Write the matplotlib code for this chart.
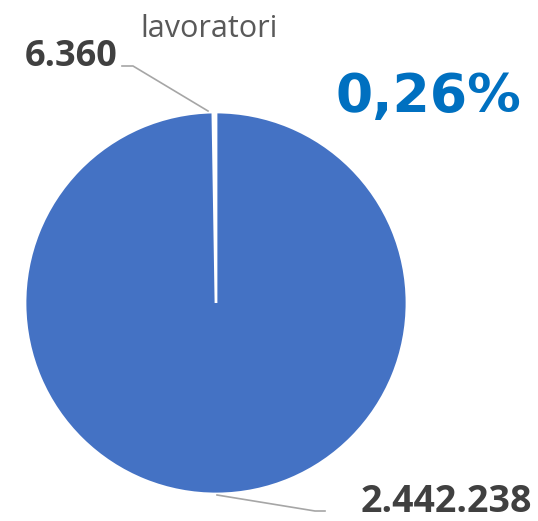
import numpy as np
import matplotlib
matplotlib.use('Agg')
import matplotlib.pyplot as plt

# data
labels = ['lavoratori', 'altri']
values = [6360, 2442238]
colors = ['#FFFFFF', '#4472C4']

share = 100.0 * values[0] / sum(values)

def fmt_it(v):
    return '{:,}'.format(v).replace(',', '.')

fig = plt.figure(figsize=(5.38, 5.21), dpi=100)
ax = fig.add_axes([0, 0, 1, 1])
ax.set_aspect('equal')
ax.axis('off')

ax.pie(values, colors=colors, startangle=90, counterclock=True,
       center=(216, 218), radius=191,
       wedgeprops=dict(edgecolor='white', linewidth=2))
ax.set_xlim(0, 538)
ax.set_ylim(0, 521)

lc = '#A6A6A6'
ax.plot([122, 133, 208], [455, 455, 410], color=lc, lw=1.2)
ax.plot([217, 315, 325], [26, 10, 10], color=lc, lw=1.2)

ax.text(118, 455, fmt_it(values[0]), ha='right', va='baseline',
        fontsize=26, fontweight='bold', color='#404040', family='Open Sans')
ax.text(361, 0, fmt_it(values[1]), ha='left', va='bottom',
        fontsize=27, fontweight='bold', color='#404040', family='Open Sans')
ax.text(209, 484, labels[0], ha='center', va='baseline',
        fontsize=22, color='#595959', family='Open Sans')
ax.text(335, 409, ('%.2f%%' % share).replace('.', ','), ha='left', va='baseline',
        fontsize=38.5, fontweight='bold', color='#0070C0', family='DejaVu Sans')

fig.savefig('out.png', dpi=100)
